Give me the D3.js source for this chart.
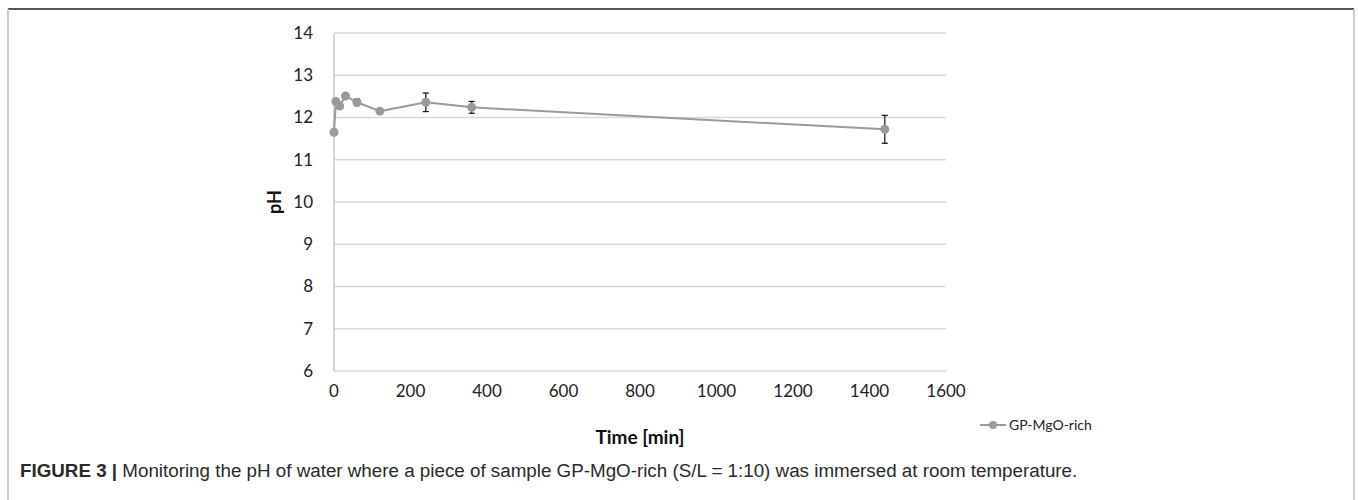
<!DOCTYPE html>
<html>
<head>
<meta charset="utf-8">
<script src="https://cdn.jsdelivr.net/npm/d3@7"></script>
<style>
  body { margin: 0; background: #fff; }
  svg { display: block; }
</style>
</head>
<body>
<div id="chart"></div>
<script>
// pH readings, sample GP-MgO-rich
var times = [0, 5, 15, 30, 60, 120, 240, 360, 1440];
var phValues = [11.65, 12.38, 12.27, 12.51, 12.36, 12.15, 12.36, 12.24, 11.72];
var phErrors = [0, 0.05, 0.05, 0.04, 0.08, 0.04, 0.22, 0.14, 0.33];
var xTicks = [0, 200, 400, 600, 800, 1000, 1200, 1400, 1600];
var yTicks = [6, 7, 8, 9, 10, 11, 12, 13, 14];
var seriesName = "GP-MgO-rich";

var width = 1358, height = 500;
// plot box (note: "top" is reserved on window, so use other names)
var plotLeft = 334, plotRight = 946, plotTop = 33, plotBottom = 371;
var font = 'Lato, "Open Sans", sans-serif';

var svg = d3.select('#chart').append('svg')
  .attr('width', width)
  .attr('height', height);

// frame around the figure
svg.append('line').attr('x1', 8).attr('x2', 1354).attr('y1', 9).attr('y2', 9)
  .attr('stroke', '#555').attr('stroke-width', 2);
svg.append('line').attr('x1', 8).attr('x2', 8).attr('y1', 9).attr('y2', 500)
  .attr('stroke', '#ccc').attr('stroke-width', 2);
svg.append('line').attr('x1', 1354).attr('x2', 1354).attr('y1', 9).attr('y2', 500)
  .attr('stroke', '#ccc').attr('stroke-width', 2);

var x = d3.scaleLinear().domain([0, 1600]).range([plotLeft, plotRight]);
var y = d3.scaleLinear().domain([6, 14]).range([plotBottom, plotTop]);

// gridlines
svg.append('g').selectAll('line').data(yTicks).enter().append('line')
  .attr('x1', plotLeft).attr('x2', plotRight)
  .attr('y1', function (d) { return y(d); })
  .attr('y2', function (d) { return y(d); })
  .attr('stroke', '#d9d9d9').attr('stroke-width', 1.5);

svg.append('line').attr('x1', plotLeft).attr('x2', plotLeft)
  .attr('y1', plotTop).attr('y2', plotBottom)
  .attr('stroke', '#c8c8c8').attr('stroke-width', 1.5);

// y tick labels
svg.append('g').selectAll('text').data(yTicks).enter().append('text')
  .attr('x', 313)
  .attr('y', function (d) { return y(d); })
  .attr('dy', '0.35em')
  .attr('text-anchor', 'end')
  .style('font-family', font)
  .style('font-size', '17px')
  .style('fill', '#222')
  .text(function (d) { return d; });

// x tick labels
svg.append('g').selectAll('text').data(xTicks).enter().append('text')
  .attr('x', function (d) { return x(d); })
  .attr('y', 397)
  .attr('text-anchor', 'middle')
  .style('font-family', font)
  .style('font-size', '17px')
  .style('fill', '#222')
  .text(function (d) { return d; });

// axis titles
svg.append('text')
  .attr('x', (plotLeft + plotRight) / 2).attr('y', 444)
  .attr('text-anchor', 'middle')
  .style('font-family', font)
  .style('font-size', '19px').style('font-weight', 'bold')
  .style('fill', '#111')
  .text('Time [min]');

svg.append('text')
  .attr('transform', 'translate(281,' + y(10) + ') rotate(-90)')
  .attr('text-anchor', 'middle')
  .style('font-family', font)
  .style('font-size', '18px').style('font-weight', 'bold')
  .style('fill', '#111')
  .text('pH');

var pts = times.map(function (t, i) {
  return { t: t, v: phValues[i], e: phErrors[i] };
});

// series line
var line = d3.line()
  .x(function (d) { return x(d.t); })
  .y(function (d) { return y(d.v); });

svg.append('path').datum(pts)
  .attr('d', line)
  .attr('fill', 'none')
  .attr('stroke', '#9a9a9a')
  .attr('stroke-width', 2);

// error bars
var eb = svg.append('g').selectAll('g').data(pts.filter(function (d) { return d.e > 0; }))
  .enter().append('g');
eb.append('line')
  .attr('x1', function (d) { return x(d.t); })
  .attr('x2', function (d) { return x(d.t); })
  .attr('y1', function (d) { return y(d.v - d.e); })
  .attr('y2', function (d) { return y(d.v + d.e); })
  .attr('stroke', '#111').attr('stroke-width', 1.2);
eb.append('line')
  .attr('x1', function (d) { return x(d.t) - 3; })
  .attr('x2', function (d) { return x(d.t) + 3; })
  .attr('y1', function (d) { return y(d.v + d.e); })
  .attr('y2', function (d) { return y(d.v + d.e); })
  .attr('stroke', '#111').attr('stroke-width', 1.2);
eb.append('line')
  .attr('x1', function (d) { return x(d.t) - 3; })
  .attr('x2', function (d) { return x(d.t) + 3; })
  .attr('y1', function (d) { return y(d.v - d.e); })
  .attr('y2', function (d) { return y(d.v - d.e); })
  .attr('stroke', '#111').attr('stroke-width', 1.2);

// markers
svg.append('g').selectAll('circle').data(pts).enter().append('circle')
  .attr('cx', function (d) { return x(d.t); })
  .attr('cy', function (d) { return y(d.v); })
  .attr('r', 4.5)
  .attr('fill', '#9a9a9a');

// legend
var lg = svg.append('g').attr('transform', 'translate(992,425)');
lg.append('line').attr('x1', -12).attr('x2', 14).attr('y1', 0).attr('y2', 0)
  .attr('stroke', '#9a9a9a').attr('stroke-width', 2);
lg.append('circle').attr('cx', 1).attr('cy', 0).attr('r', 4).attr('fill', '#9a9a9a');
lg.append('text').attr('x', 17).attr('y', 0).attr('dy', '0.35em')
  .style('font-family', font)
  .style('font-size', '14px')
  .style('fill', '#222')
  .text(seriesName);

// caption
var cap = svg.append('text')
  .attr('x', 20).attr('y', 477)
  .style('font-family', '"Liberation Sans", sans-serif')
  .style('font-size', '18.8px')
  .style('fill', '#2a2a2a');
cap.append('tspan').style('font-weight', 'bold').text('FIGURE 3 | ');
cap.append('tspan').text('Monitoring the pH of water where a piece of sample GP-MgO-rich (S/L = 1:10) was immersed at room temperature.');
</script>
</body>
</html>
